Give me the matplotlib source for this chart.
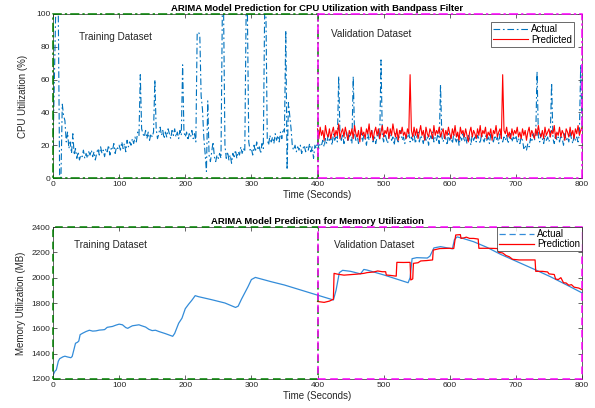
"""
plot.py
Recreate the ARIMA prediction figure (CPU and memory utilization).
"""

import numpy as np
import matplotlib
matplotlib.use('Agg')
import matplotlib.pyplot as plt
from matplotlib.patches import Rectangle
from matplotlib.lines import Line2D

plt.rcParams['font.family'] = ['Liberation Sans', 'DejaVu Sans']

#
#  CPU utilization (%), sampled every 2 seconds
#

cpu_time = np.arange(0, 801, 2)

cpu_actual = [
    18, 60, 100, 100, 100, 2, 0, 45, 38, 35, 22, 28, 18, 22, 15, 27, 14, 18, 12, 16, 11, 14, 13, 17, 12,
    15, 12, 16, 14, 17, 13, 16, 11, 15, 18, 14, 19, 15, 17, 13, 18, 16, 20, 14, 18, 17, 21, 15, 19, 18,
    20, 17, 22, 18, 21, 16, 23, 19, 22, 20, 24, 21, 25, 22, 28, 26, 63, 30, 27, 25, 29, 24, 28, 23, 27,
    25, 28, 60, 30, 24, 27, 31, 26, 29, 24, 28, 25, 30, 27, 24, 29, 26, 30, 25, 28, 24, 29, 26, 69, 28,
    25, 28, 23, 27, 25, 29, 24, 27, 22, 88, 89, 87, 50, 42, 25, 15, 4, 47, 14, 10, 16, 22, 13, 10, 14,
    12, 15, 12, 100, 100, 20, 12, 16, 11, 14, 9, 15, 13, 17, 12, 16, 14, 19, 15, 18, 16, 100, 100, 22, 17,
    18, 14, 20, 16, 22, 17, 19, 15, 21, 18, 100, 100, 24, 20, 26, 22, 25, 21, 27, 23, 26, 22, 28, 24, 30,
    28, 90, 5, 46, 38, 30, 19, 17, 20, 16, 19, 17, 20, 15, 18, 20, 16, 19, 17, 21, 16, 19, 12, 20, 18,
    22, 18, 21, 20, 23, 19, 24, 21, 26, 22, 25, 20, 27, 23, 25, 22, 62, 26, 23, 27, 21, 25, 28, 22, 26,
    24, 21, 62, 27, 23, 26, 21, 25, 28, 22, 26, 24, 20, 27, 23, 25, 29, 22, 26, 21, 25, 28, 23, 72, 26,
    22, 27, 24, 21, 26, 28, 23, 25, 20, 27, 24, 22, 26, 29, 23, 25, 21, 26, 24, 28, 22, 25, 23, 27, 21,
    25, 28, 22, 26, 24, 21, 27, 23, 25, 20, 26, 24, 28, 22, 25, 23, 27, 21, 57, 25, 22, 26, 24, 20, 27,
    23, 25, 21, 27, 24, 22, 26, 20, 25, 23, 28, 22, 25, 21, 26, 24, 20, 27, 23, 25, 22, 26, 24, 21, 27,
    24, 22, 26, 23, 25, 21, 27, 24, 22, 26, 23, 25, 21, 27, 24, 22, 25, 23, 26, 21, 24, 27, 22, 25, 23,
    26, 22, 24, 21, 25, 23, 18, 20, 17, 21, 19, 24, 22, 27, 23, 26, 65, 25, 22, 27, 24, 21, 26, 23, 25,
    22, 26, 58, 24, 21, 27, 23, 25, 22, 26, 24, 20, 27, 23, 25, 22, 28, 24, 21, 26, 23, 25, 22, 27, 69,
    30,
]

pred_time = np.arange(400, 801, 2)

cpu_pred = [
    30, 24, 31, 26, 29, 23, 32, 27, 25, 30, 24, 28, 31, 25, 29, 26, 33, 24, 28, 30, 25, 31, 27, 23, 29,
    26, 30, 24, 32, 27, 25, 29, 22, 31, 26, 28, 24, 30, 27, 33, 25, 29, 23, 28, 31, 26, 30, 24, 28, 32,
    25, 29, 27, 31, 24, 30, 26, 33, 28, 25, 30, 23, 29, 27, 31, 26, 28, 24, 30, 27, 63, 29, 25, 31, 26,
    30, 24, 28, 32, 26, 29, 23, 31, 27, 25, 30, 28, 24, 32, 26, 29, 27, 31, 25, 28, 30, 24, 29, 26, 31,
    27, 24, 30, 26, 32, 25, 28, 23, 31, 27, 29, 25, 30, 26, 22, 28, 31, 25, 29, 27, 24, 30, 26, 32, 25,
    29, 27, 31, 24, 28, 26, 30, 23, 29, 27, 32, 25, 28, 30, 24, 63, 29, 27, 31, 25, 28, 24, 30, 26, 29,
    27, 31, 25, 28, 24, 30, 26, 29, 23, 28, 31, 25, 29, 27, 24, 30, 26, 32, 27, 25, 29, 24, 31, 26, 28,
    30, 25, 29, 27, 32, 24, 28, 26, 31, 25, 29, 27, 23, 30, 28, 25, 31, 26, 29, 24, 30, 27, 32, 26, 29,
    31,
]

#
#  Memory utilization (MB)
#

mem_time = [0, 3, 5, 8, 10, 15, 18, 22, 27, 29, 32, 34, 37, 39, 41, 45, 50, 55, 60, 65,
            70, 75, 78, 82, 90, 95, 100, 105, 110, 113, 117, 120, 125, 130, 133, 140, 145, 150,
            155, 160, 170, 181, 184, 190, 195, 200, 205, 210, 215, 220, 240, 260, 276, 280,
            285, 290, 295, 300, 306, 330, 350, 370, 390, 400, 424, 428, 433, 438, 450, 465,
            470, 475, 500, 537, 540, 543, 550, 566, 570, 576, 586, 604, 607, 611, 620, 636,
            656, 677, 702, 727, 752, 777, 800]
mem_actual = [1230, 1262, 1272, 1340, 1360, 1375, 1380, 1374, 1368, 1378, 1440, 1482, 1490,
              1500, 1550, 1562, 1575, 1585, 1578, 1580, 1586, 1588, 1590, 1608, 1615, 1625,
              1633, 1628, 1606, 1600, 1612, 1620, 1624, 1628, 1622, 1610, 1592, 1582, 1585,
              1575, 1558, 1537, 1560, 1640, 1680, 1755, 1790, 1822, 1858, 1850, 1826, 1800,
              1765, 1775, 1830, 1880, 1930, 1985, 2002, 1968, 1942, 1910, 1878, 1862, 1824,
              1900, 2040, 2058, 2050, 2030, 2065, 2060, 2022, 1960, 2000, 2150, 2158, 2155,
              2170, 2235, 2245, 2228, 2300, 2322, 2310, 2284, 2240, 2184, 2126, 2068, 2008,
              1942, 1880]

mem_pred_time = [400, 410, 418, 424, 425, 430, 440, 450, 460, 470, 475, 485, 491, 498, 503,
                 504, 510, 519, 520, 530, 540, 541, 544, 545, 552, 556, 565, 574, 575, 585,
                 600, 606, 609, 616, 617, 622, 625, 630, 636, 643, 644, 660, 672, 674, 680,
                 685, 690, 695, 705, 729, 730, 740, 748, 750, 758, 760, 764, 768, 772, 776,
                 780, 784, 788, 795, 800]
mem_pred = [1812, 1805, 1815, 1830, 2034, 2028, 2020, 2024, 2028, 2034, 2040, 2045, 2053,
            2047, 2047, 2021, 2018, 2012, 2121, 2120, 2121, 1982, 1990, 2113, 2118, 2132,
            2135, 2140, 2218, 2230, 2232, 2230, 2337, 2340, 2310, 2315, 2320, 2310, 2310,
            2305, 2232, 2232, 2230, 2200, 2195, 2175, 2165, 2145, 2140, 2140, 2050, 2050,
            2045, 2030, 2025, 1990, 1985, 2000, 1960, 1958, 1940, 1945, 1925, 1918, 1905]

blue = (0.0, 0.447, 0.741)
mem_blue = (0.2, 0.55, 0.85)
green = (0.0, 0.5, 0.0)
magenta = (1.0, 0.0, 1.0)
axcol = '0.15'

fig = plt.figure(figsize=(5.95, 4.08), dpi=100)
ax1 = fig.add_axes([0.0891, 0.5637, 0.8891, 0.4020])
ax2 = fig.add_axes([0.0891, 0.0711, 0.8891, 0.3725])

dashdot = (0, (6, 2.5, 1.5, 2.5))

#
#  Top panel: CPU
#

ax1.plot(cpu_time, cpu_actual, color=blue, lw=0.8, ls=dashdot, label='Actual')
ax1.plot(pred_time, cpu_pred, color='red', lw=0.8, label='Predicted')
ax1.set_xlim(0, 800)
ax1.set_ylim(0, 100)
ax1.set_yticks(range(0, 101, 20))
ax1.set_title('ARIMA Model Prediction for CPU Utilization with Bandpass Filter',
              fontsize=6.8, fontweight='bold', pad=2.5)
ax1.set_ylabel('CPU Utilization (%)', fontsize=7, color=axcol, labelpad=6)
ax1.set_xlabel('Time (Seconds)', fontsize=7, color=axcol, labelpad=1.5)
ax1.text(40, 86, 'Training Dataset', fontsize=7.2, color='0.15', va='center')
ax1.text(421, 87.5, 'Validation Dataset', fontsize=7.2, color='0.15', va='center')
ax1.add_patch(Rectangle((0, 0), 400, 100, fill=False, ec=green, lw=1.1,
                        ls=(0, (6, 2, 1.5, 2)), clip_on=False, zorder=5))
ax1.add_patch(Rectangle((401, 0), 399, 100, fill=False, ec=magenta, lw=1.1,
                        ls=(0, (6, 2, 1.5, 2)), clip_on=False, zorder=5))
leg1 = ax1.legend(loc='upper right', fontsize=7, frameon=True, fancybox=False,
                  edgecolor='0.15', borderpad=0.25, handlelength=3.6,
                  handletextpad=0.3, labelspacing=0.05, borderaxespad=0.8)
leg1.get_frame().set_linewidth(0.6)

#
#  Bottom panel: memory
#

ax2.plot(mem_time, mem_actual, color=mem_blue, lw=0.9)
ax2.plot(mem_pred_time, mem_pred, color='red', lw=0.9)
ax2.set_xlim(0, 800)
ax2.set_ylim(1200, 2400)
ax2.set_yticks(range(1200, 2401, 200))
ax2.set_title('ARIMA Model Prediction for Memory Utilization',
              fontsize=6.8, fontweight='bold', pad=2.5)
ax2.set_ylabel('Memory Utilization (MB)', fontsize=7, color=axcol, labelpad=4)
ax2.set_xlabel('Time (Seconds)', fontsize=7, color=axcol, labelpad=1.5)
ax2.text(32, 2258, 'Training Dataset', fontsize=7.2, color='0.15', va='center')
ax2.text(425, 2258, 'Validation Dataset', fontsize=7.2, color='0.15', va='center')
ax2.add_patch(Rectangle((0, 1200), 400, 1200, fill=False, ec=green, lw=1.1,
                        ls=(0, (5, 3)), clip_on=False, zorder=5))
ax2.add_patch(Rectangle((401, 1200), 399, 1200, fill=False, ec=magenta, lw=1.1,
                        ls=(0, (5, 3)), clip_on=False, zorder=5))
handles = [Line2D([], [], color=mem_blue, lw=0.9, ls=(0, (5, 3))),
           Line2D([], [], color='red', lw=0.9)]
leg2 = ax2.legend(handles, ['Actual', 'Prediction'], loc='upper right', fontsize=7,
                  frameon=True, fancybox=False, edgecolor='0.15', borderpad=0.2,
                  handlelength=3.6, handletextpad=0.3, labelspacing=0.05,
                  borderaxespad=0.0)
leg2.get_frame().set_linewidth(0.6)

for ax in (ax1, ax2):
    ax.set_xticks(range(0, 801, 100))
    ax.tick_params(direction='in', length=3, width=0.5, top=True, right=True,
                   labelsize=6, colors=axcol, pad=2)
    for sp in ax.spines.values():
        sp.set_color(axcol)
        sp.set_linewidth(0.5)

fig.savefig('out.png', dpi=100)
